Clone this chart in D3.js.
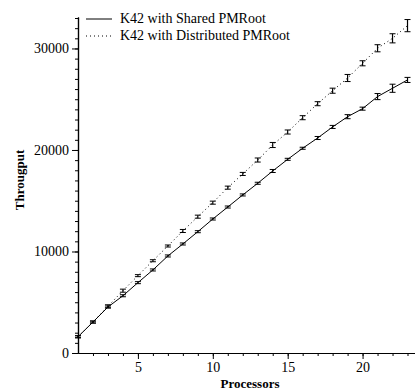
<!DOCTYPE html>
<html>
<head>
<meta charset="utf-8">
<script src="https://cdn.jsdelivr.net/npm/d3@7"></script>
<style>
  body { margin: 0; background: #fff; }
  svg { display: block; }
  svg text { font-family: "Liberation Serif", "Times New Roman", serif; fill: #000; }
</style>
</head>
<body>
<svg id="svg" width="415" height="391"></svg>
<script>
const processors = d3.range(1, 24);
const sharedValues = [1600, 3050, 4530, 5640, 6930, 8180, 9560, 10740, 11950, 13200, 14380, 15570,
                      16720, 17930, 19080, 20170, 21180, 22270, 23280, 24070, 25260, 26080, 26900];
const sharedErr = [100, 100, 100, 100, 100, 100, 100, 100, 100, 100, 100, 100,
                   100, 150, 100, 100, 150, 150, 200, 150, 300, 400, 250];
const distValues = [1600, 3050, 4600, 6140, 7620, 9090, 10540, 12020, 13430, 14810, 16290, 17640,
                    19010, 20490, 21770, 23180, 24560, 25840, 27090, 28540, 30020, 31000, 32250];
const distErr = [100, 100, 150, 150, 100, 100, 100, 150, 150, 150, 150, 150,
                 200, 250, 200, 200, 200, 250, 350, 250, 350, 450, 600];
const seriesNames = ['K42 with Shared PMRoot', 'K42 with Distributed PMRoot'];
const xTicks = [5, 10, 15, 20];
const yTicks = [0, 10000, 20000, 30000];

const svg = d3.select('#svg');
const padding = {top: 17, right: 0, bottom: 38, left: 78};
const width = 415, height = 391;

const xScale = d3.scaleLinear().domain([1, 23.5]).range([padding.left, width - padding.right]);
const yScale = d3.scaleLinear().domain([0, 33100]).range([height - padding.bottom, padding.top]);

// minor ticks
const xAxisG = svg.append('g')
    .attr('transform', 'translate(0,' + (height - padding.bottom) + ')');
xAxisG.append('g')
    .call(d3.axisBottom(xScale).tickValues(d3.range(2, 24)).tickSize(3).tickFormat('').tickSizeOuter(0));
xAxisG.append('g')
    .call(d3.axisBottom(xScale).tickValues(xTicks).tickSize(6).tickSizeOuter(0).tickPadding(3));

const yAxisG = svg.append('g')
    .attr('transform', 'translate(' + padding.left + ',0)');
yAxisG.append('g')
    .call(d3.axisLeft(yScale).tickValues(d3.range(1000, 34000, 1000)).tickSize(3).tickFormat('').tickSizeOuter(0));
yAxisG.append('g')
    .call(d3.axisLeft(yScale).tickValues(yTicks).tickSize(6).tickSizeOuter(0).tickPadding(3).tickFormat(d3.format('d')));

svg.selectAll('g').attr('font-family', null).attr('font-size', null);
svg.selectAll('.domain').attr('stroke', '#000').attr('stroke-width', 1.2);
svg.selectAll('.tick line').attr('stroke', '#000');
svg.selectAll('.tick text').attr('font-size', 14);

// axis titles
svg.append('text')
    .attr('x', 250).attr('y', 388)
    .attr('text-anchor', 'middle')
    .attr('font-size', 13).attr('font-weight', 'bold')
    .text('Processors');
svg.append('text')
    .attr('transform', 'translate(24,180) rotate(-90)')
    .attr('text-anchor', 'middle')
    .attr('font-size', 13).attr('font-weight', 'bold')
    .text('Througput');

const series = [
    {values: sharedValues, err: sharedErr, dash: null},
    {values: distValues, err: distErr, dash: '1,3'}
];

const line = d3.line().x((d, i) => xScale(processors[i])).y(d => yScale(d));

series.forEach(s => {
    svg.append('path')
        .datum(s.values)
        .attr('fill', 'none')
        .attr('stroke', '#000')
        .attr('stroke-width', 1)
        .attr('stroke-dasharray', s.dash)
        .attr('d', line);

    const eb = svg.append('g').selectAll('g').data(s.values).enter().append('g');
    eb.append('line')
        .attr('x1', (d, i) => xScale(processors[i])).attr('x2', (d, i) => xScale(processors[i]))
        .attr('y1', (d, i) => yScale(d - s.err[i])).attr('y2', (d, i) => yScale(d + s.err[i]))
        .attr('stroke', '#000').attr('stroke-width', 1.2);
    eb.append('line')
        .attr('x1', (d, i) => xScale(processors[i]) - 3).attr('x2', (d, i) => xScale(processors[i]) + 3)
        .attr('y1', (d, i) => yScale(d - s.err[i])).attr('y2', (d, i) => yScale(d - s.err[i]))
        .attr('stroke', '#000').attr('stroke-width', 1);
    eb.append('line')
        .attr('x1', (d, i) => xScale(processors[i]) - 3).attr('x2', (d, i) => xScale(processors[i]) + 3)
        .attr('y1', (d, i) => yScale(d + s.err[i])).attr('y2', (d, i) => yScale(d + s.err[i]))
        .attr('stroke', '#000').attr('stroke-width', 1);
});

// legend
const legend = svg.append('g');
seriesNames.forEach((name, i) => {
    const y = 19 + i * 17;
    legend.append('line')
        .attr('x1', 86).attr('x2', 112).attr('y1', y).attr('y2', y)
        .attr('stroke', '#000').attr('stroke-width', 1)
        .attr('stroke-dasharray', series[i].dash);
    legend.append('text')
        .attr('x', 120).attr('y', y + 4)
        .attr('font-size', 14)
        .text(name);
});
</script>
</body>
</html>
